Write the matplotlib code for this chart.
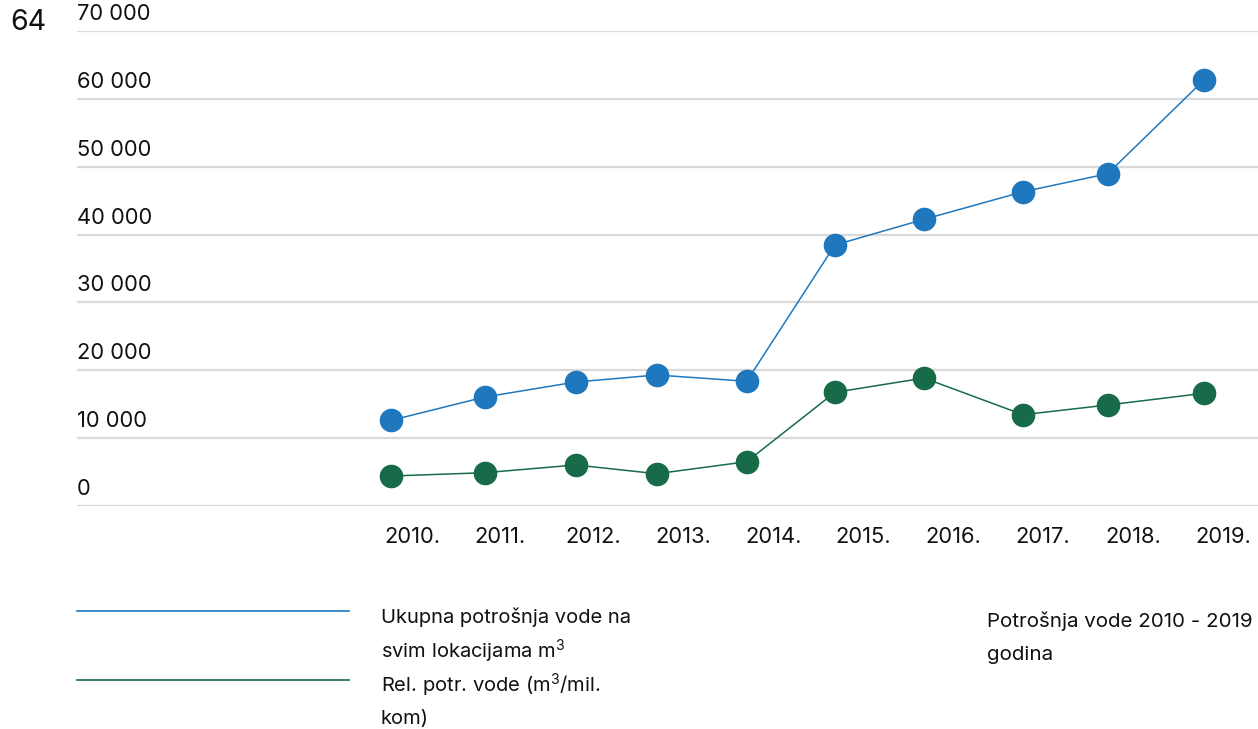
import matplotlib.pyplot as plt
import matplotlib.transforms as mtransforms
from matplotlib.lines import Line2D
import matplotlib

plt.rcParams['font.family'] = ['Inter', 'DejaVu Sans']
plt.rcParams['mathtext.fontset'] = 'custom'
plt.rcParams['mathtext.rm'] = 'Inter'
plt.rcParams['mathtext.it'] = 'Inter'

# point positions (points sit slightly off the year ticks)
years = [2010, 2011, 2012, 2013, 2014, 2015, 2016, 2017, 2018, 2019]
x_pos = [2010.07, 2011.11, 2012.12, 2013.02, 2014.02, 2015.00, 2015.99, 2017.09, 2018.03, 2019.10]
year_labels = ['2010.', '2011.', '2012.', '2013.', '2014.', '2015.', '2016.', '2017.', '2018.', '2019.']

total_water = [12600, 16040, 18250, 19290, 18360, 38470, 42260, 46330, 48990, 62820]
rel_water = [4380, 4870, 6010, 4720, 6490, 16730, 18840, 13430, 14860, 16590]

y_ticks = [0, 10000, 20000, 30000, 40000, 50000, 60000, 70000]
y_labels = ['0', '10 000', '20 000', '30 000', '40 000', '50 000', '60 000', '70 000']

BLUE = '#1f78be'
GREEN = '#176b48'
GRID = '#d9d9d9'
TXT = '#111111'

fig = plt.figure(figsize=(12.58, 7.29), dpi=100)
ax = fig.add_axes([0.0612, 0.3063, 0.9388, 0.6507])

ax.plot(x_pos, total_water, color=BLUE, lw=1.1, marker='o', markersize=16, zorder=3)
ax.plot(x_pos, rel_water, color=GREEN, lw=1.1, marker='o', markersize=16, zorder=3)

ax.set_xlim(2006.58, 2019.70)
ax.set_ylim(0, 70000)

for v in y_ticks:
    ax.axhline(v, color=GRID, lw=1.6, zorder=1)

# y labels sit above their gridline, left aligned
trans = mtransforms.offset_copy(ax.get_yaxis_transform(), fig=fig, x=0, y=7, units='dots')
for v, lab in zip(y_ticks, y_labels):
    ax.text(0.0, v, lab, transform=trans, ha='left', va='bottom', fontsize=15.8, color=TXT)

ax.set_yticks([])
ax.set_xticks(years)
ax.set_xticklabels(year_labels, ha='left', fontsize=15.8, color=TXT)
ax.tick_params(axis='x', length=0, pad=15)
for s in ax.spines.values():
    s.set_visible(False)

# page number
fig.text(10 / 1258, 1 - 22 / 729, '64', fontsize=20.5, va='center', ha='left', color=TXT)

# legend drawn by hand
fig.add_artist(Line2D([77 / 1258, 349 / 1258], [1 - 611 / 729, 1 - 611 / 729], color=BLUE, lw=1.2))
fig.add_artist(Line2D([77 / 1258, 349 / 1258], [1 - 680 / 729, 1 - 680 / 729], color=GREEN, lw=1.2))
legend_lines = ['Ukupna potrošnja vode na', r'svim lokacijama m$^{3}$',
                r'Rel. potr. vode (m$^{3}$/mil.', 'kom)']
for i, t in enumerate(legend_lines):
    fig.text(381 / 1258, 1 - (617 + 34 * i) / 729, t, fontsize=14.5, va='center', ha='left', color=TXT)

caption = ['Potrošnja vode 2010 - 2019', 'godina']
for i, t in enumerate(caption):
    fig.text(987 / 1258, 1 - (621 + 34 * i) / 729, t, fontsize=14.8, va='center', ha='left', color=TXT)

fig.savefig('out.png', dpi=100)
